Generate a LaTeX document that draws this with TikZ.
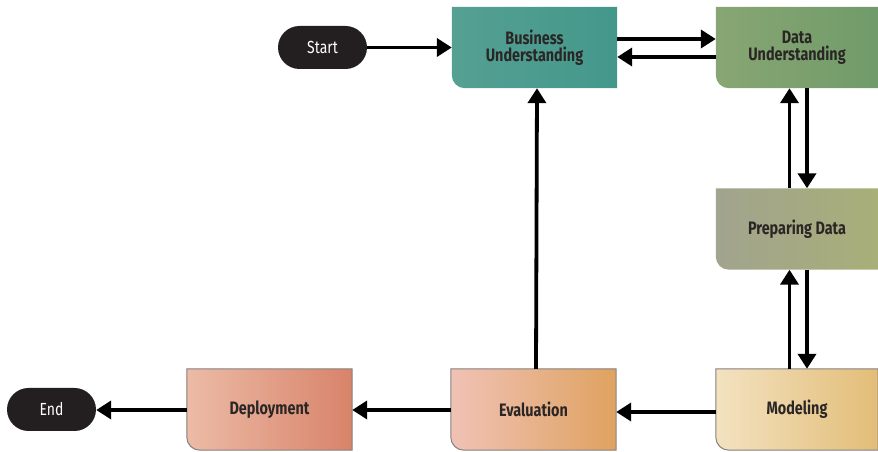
\documentclass[tikz,border=0pt]{standalone}
\usepackage{fontspec}
\setmainfont{Fira Sans}[FakeStretch=0.8]
\usetikzlibrary{arrows.meta}
\pgfdeclarelayer{background}
\pgfsetlayers{background,main}

\definecolor{pill}{HTML}{231F20}
\definecolor{ink}{HTML}{2B2626}
\definecolor{edge}{HTML}{858080}
\definecolor{buL}{HTML}{55A093}\definecolor{buR}{HTML}{43988B}
\definecolor{duL}{HTML}{88A673}\definecolor{duR}{HTML}{709B6A}
\definecolor{pdL}{HTML}{A1A48E}\definecolor{pdR}{HTML}{A8AF78}
\definecolor{moL}{HTML}{F3E2C0}\definecolor{moR}{HTML}{E2BD78}
\definecolor{evL}{HTML}{F0C2B5}\definecolor{evR}{HTML}{DFA260}
\definecolor{deL}{HTML}{ECBBA6}\definecolor{deR}{HTML}{D8836A}

\tikzset{
  phase/.style={minimum width=165pt, minimum height=81pt, inner sep=0pt,
    align=center, font=\fontsize{18}{17}\selectfont\bfseries, text=ink},
  terminal/.style={fill=pill, rounded corners=21.5pt, minimum width=89pt,
    minimum height=43pt, inner sep=0pt, text=white,
    font=\fontsize{17.5}{17}\selectfont\mdseries},
  flow/.style={line width=3.8pt, -{Triangle[length=15pt,width=18pt]}},
}

% a box with only its lower left corner rounded
\newcommand{\phasebg}[4]{%
  \shade[left color=#2, right color=#3, #4]
    (#1.north west) -- (#1.north east) -- (#1.south east)
    -- ([xshift=13pt]#1.south west)
    arc[start angle=270, end angle=180, radius=13pt] -- cycle;}

\begin{document}
\begin{tikzpicture}[x=1pt,y=1pt]
\useasboundingbox (0,0) rectangle (878,452);

\node[terminal] (start) at (322.5,404.5) {Start};
\node[terminal] (end) at (51.5,42.5) {End};

\node[phase] (bu) at (534.5,404.5) {Business\\Understanding};
\node[phase, minimum width=162pt] (du) at (797,404.5) {Data\\Understanding};
\node[phase, minimum width=162pt] (pd) at (797,223) {Preparing Data};
\node[phase, minimum width=162pt] (mo) at (797,42.5) {Modeling};
\node[phase] (ev) at (533.5,42.5) {Evaluation};
\node[phase] (de) at (269.5,42.5) {Deployment};

\begin{pgfonlayer}{background}
  \phasebg{bu}{buL}{buR}{}
  \phasebg{du}{duL}{duR}{}
  \phasebg{pd}{pdL}{pdR}{}
  \phasebg{mo}{moL}{moR}{draw=edge, line width=1pt}
  \phasebg{ev}{evL}{evR}{draw=edge, line width=1pt}
  \phasebg{de}{deL}{deR}{draw=edge, line width=1pt}
\end{pgfonlayer}

\draw[flow] (start.east) -- (bu.west);
\draw[flow] ([yshift=8.5pt]bu.east) -- ([yshift=8.5pt]du.west);
\draw[flow] ([yshift=-9.5pt]du.west) -- ([yshift=-9.5pt]bu.east);
\draw[flow] ([xshift=10pt]du.south) -- ([xshift=10pt]pd.north);
\draw[flow] ([xshift=-7.5pt]pd.north) -- ([xshift=-7.5pt]du.south);
\draw[flow] ([xshift=10pt]pd.south) -- ([xshift=10pt]mo.north);
\draw[flow] ([xshift=-7.5pt]mo.north) -- ([xshift=-7.5pt]pd.south);
\draw[flow] ([yshift=-2.5pt]mo.west) -- ([yshift=-2.5pt]ev.east);
\draw[flow] ([xshift=2.5pt]ev.north) -- ([xshift=2.5pt]bu.south);
\draw[flow] ([yshift=-0.5pt]ev.west) -- ([yshift=-0.5pt]de.east);
\draw[flow] ([yshift=-0.5pt]de.west) -- ([yshift=-0.5pt]end.east);
\end{tikzpicture}
\end{document}
